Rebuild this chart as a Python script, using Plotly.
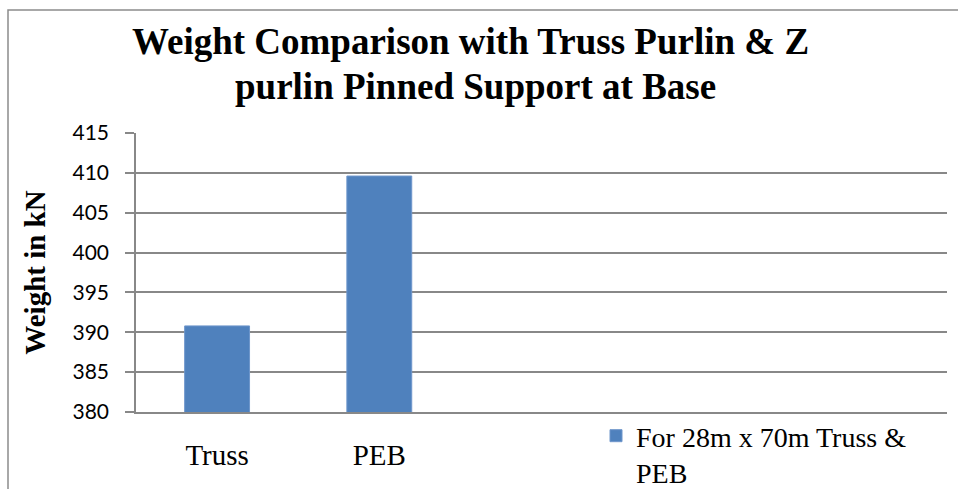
import plotly.graph_objects as go

# Chart data
categories = ["Truss", "PEB"]
weights_kn = [390.8, 409.6]
series_name = "For 28m x 70m Truss &<br>PEB"
y_ticks = [380, 385, 390, 395, 400, 405, 410, 415]

W, H = 958, 489
L, R, T, B = 136, 11, 133, 77
plot_w = W - L - R
plot_h = H - T - B


def px_x(x):
    return (x - L) / plot_w


def px_y(y):
    return (H - B - y) / plot_h


serif = "Liberation Serif, Times New Roman, serif"
sans = "Lato, Calibri, sans-serif"
grid = "#888888"

fig = go.Figure()
fig.add_trace(go.Bar(
    x=categories,
    y=weights_kn,
    name=series_name,
    marker=dict(color="#4F81BD", line=dict(color="#6E96CB", width=1)),
    showlegend=True,
))

fig.update_layout(
    width=W,
    height=H,
    margin=dict(l=L, r=R, t=T, b=B, pad=0, autoexpand=False),
    paper_bgcolor="white",
    plot_bgcolor="white",
    bargap=0.6,
    showlegend=True,
    legend=dict(
        x=px_x(596), y=px_y(411), xanchor="left", yanchor="top",
        font=dict(family=serif, size=28, color="black"),
        valign="top", bgcolor="rgba(0,0,0,0)", itemwidth=30,
        tracegroupgap=0,
    ),
    xaxis=dict(
        type="category",
        range=[-0.5, 4.5],
        showgrid=False,
        showline=True, linecolor=grid, linewidth=1.5,
        ticks="",
        tickfont=dict(family=serif, size=29, color="black"),
        ticklabelstandoff=16,
        fixedrange=True,
    ),
    yaxis=dict(
        range=[380, 415],
        tickvals=y_ticks,
        showgrid=True, gridcolor=grid, gridwidth=1.5,
        showline=True, linecolor=grid, linewidth=1.5,
        ticks="outside", ticklen=9, tickcolor=grid, tickwidth=1.5,
        tickfont=dict(family=sans, size=21, color="black"),
        ticklabelstandoff=12,
        zeroline=False,
        title=dict(text="<b>Weight in kN</b>",
                   font=dict(family=serif, size=29, color="black"),
                   standoff=18),
        fixedrange=True,
    ),
    annotations=[
        dict(text="<b>Weight Comparison with Truss Purlin & Z</b>",
             xref="paper", yref="paper", x=px_x(470), y=px_y(42),
             xanchor="center", yanchor="middle", showarrow=False,
             font=dict(family=serif, size=37, color="black")),
        dict(text="<b>purlin Pinned Support at Base</b>",
             xref="paper", yref="paper", x=px_x(475), y=px_y(86),
             xanchor="center", yanchor="middle", showarrow=False,
             font=dict(family=serif, size=37, color="black")),
    ],
    shapes=[
        dict(type="rect", xref="paper", yref="paper",
             x0=px_x(8), x1=px_x(962), y0=px_y(495), y1=px_y(10),
             line=dict(color="#8C8C8C", width=1.5), layer="below"),
    ],
)

fig.write_html("out.html")
